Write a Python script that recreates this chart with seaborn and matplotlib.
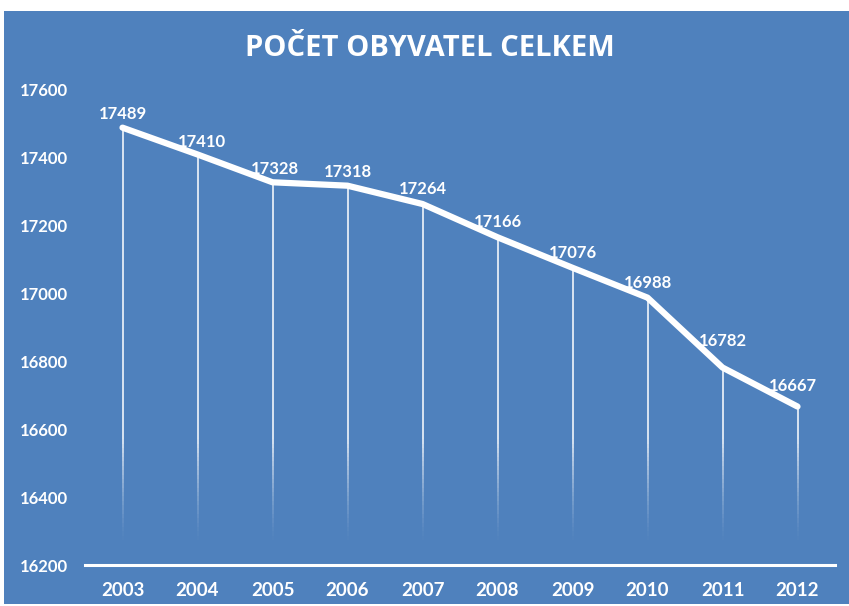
import matplotlib
matplotlib.use("Agg")
import matplotlib.pyplot as plt
import numpy as np
import pandas as pd
import seaborn as sns
from matplotlib.patches import Rectangle

years = ["2003", "2004", "2005", "2006", "2007", "2008", "2009", "2010", "2011", "2012"]
population = [17489, 17410, 17328, 17318, 17264, 17166, 17076, 16988, 16782, 16667]
title = "POČET OBYVATEL CELKEM"

BLUE = "#4f81bd"

sns.set_theme(style="white")
plt.rcParams['font.family'] = ['Lato', 'DejaVu Sans']

df = pd.DataFrame({"year": years, "pop": population})
x = np.arange(len(years))

fig = plt.figure(figsize=(8.49, 6.06), dpi=100, facecolor="white")
# blue chart area with thin white margin
fig.patches.append(Rectangle((4 / 849, 2 / 606), 845 / 849, 593 / 606,
                             transform=fig.transFigure, facecolor=BLUE,
                             edgecolor="none", zorder=-10))

ax = fig.add_axes([85 / 849, 41 / 606, 750 / 849, 475 / 606])
ax.set_facecolor("none")
ax.set_zorder(5)

# drop lines fading out toward the bottom
fade_top, fade_bot = 16570, 16260
for xi, yi in zip(x, population):
    ax.vlines(xi, fade_top, yi, color="white", lw=1.1, zorder=2)
    edges = np.linspace(fade_bot, fade_top, 25)
    for k in range(len(edges) - 1):
        a = (k + 0.5) / (len(edges) - 1)
        ax.vlines(xi, edges[k], edges[k + 1], color="white", lw=1.1,
                  alpha=a ** 1.5, zorder=2)

sns.lineplot(x=x, y=df["pop"], ax=ax, color="white", lw=4.5,
             solid_capstyle="round", zorder=3)

# label placement tweaks (points), like the original's auto placement
lift = [4, 3, 4, 4, 5, 5, 5, 5, 13, 9]
shift = [0, 3, 2, 0, 0, 0, 0, 0, 0, -3]
for xi, yi, dy, dx in zip(x, population, lift, shift):
    ax.annotate(str(yi), (xi, yi), xytext=(dx, dy), textcoords="offset points",
                ha="center", va="bottom", color="white", fontsize=12,
                fontweight="bold")

ax.set_xlim(-0.5, len(years) - 0.5)
ax.set_ylim(16200, 17600)
ax.set_yticks(np.arange(16200, 17601, 200))
ax.set_xticks(x)
ax.set_xticklabels(years)
ax.set_xlabel("")
ax.set_ylabel("")
for s in ["top", "right", "left"]:
    ax.spines[s].set_visible(False)
ax.spines["bottom"].set_color("white")
ax.spines["bottom"].set_linewidth(2.2)
ax.tick_params(axis="both", length=0, colors="white", labelsize=12)
ax.tick_params(axis="y", pad=12)
ax.tick_params(axis="x", pad=12, labelsize=13.5)
for lab in ax.get_xticklabels() + ax.get_yticklabels():
    lab.set_fontweight("bold")

fig.text(430 / 849, 1 - 48 / 606, title, ha="center", va="center",
         color="white", fontsize=21, fontweight="bold",
         family=["Open Sans", "DejaVu Sans"])

fig.savefig("out.png", dpi=100, facecolor="white")
